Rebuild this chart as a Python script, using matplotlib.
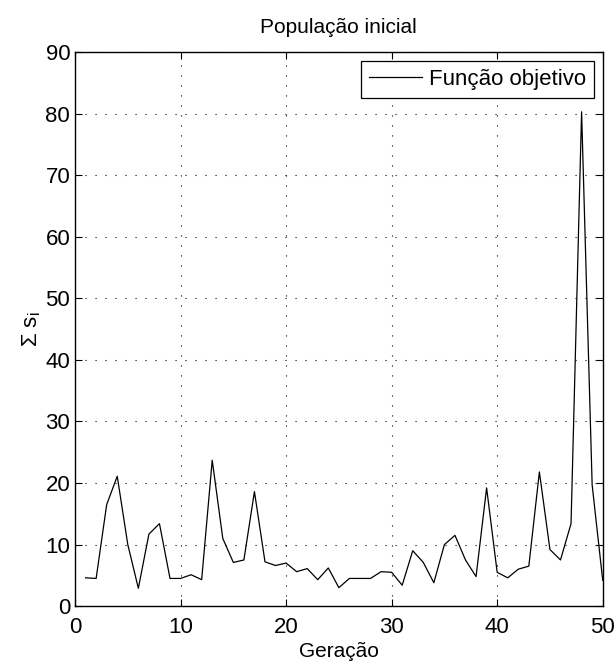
import matplotlib
matplotlib.use('Agg')
import matplotlib.pyplot as plt
import numpy as np

# Geração 1..50 e valor da função objetivo
geracao = np.arange(1, 51)
funcao_obj = [4.6, 4.5, 16.5, 21.1, 10.0, 2.9, 11.7, 13.4, 4.5, 4.5,
              5.1, 4.3, 23.7, 11.0, 7.1, 7.5, 18.6, 7.2, 6.6, 7.0,
              5.6, 6.1, 4.3, 6.2, 3.0, 4.5, 4.5, 4.5, 5.6, 5.5,
              3.4, 9.0, 7.1, 3.8, 10.0, 11.5, 7.5, 4.8, 19.2, 5.5,
              4.6, 6.0, 6.5, 21.8, 9.2, 7.5, 13.4, 80.3, 19.7, 4.2]

xticks = [0, 10, 20, 30, 40, 50]
yticks = [0, 10, 20, 30, 40, 50, 60, 70, 80, 90]

plt.rcParams['font.family'] = ['Liberation Sans', 'DejaVu Sans']
plt.rcParams['mathtext.fontset'] = 'custom'
plt.rcParams['mathtext.rm'] = 'Liberation Sans'
plt.rcParams['mathtext.it'] = 'Liberation Sans'

fig = plt.figure(figsize=(6.15, 6.72), dpi=100)
ax = fig.add_axes([0.122, 0.098, 0.858, 0.8245])

ax.plot(geracao, funcao_obj, color='black', linewidth=0.9, label='Função objetivo')

ax.set_xlim(0, 50)
ax.set_ylim(0, 90)
ax.set_xticks(xticks)
ax.set_yticks(yticks)
ax.tick_params(direction='in', top=True, right=True, labelsize=16, length=5, width=0.8)
ax.tick_params(axis='x', pad=8)
ax.grid(True, linestyle=(0, (1, 8)), color='black', linewidth=0.8)

for s in ax.spines.values():
    s.set_linewidth(1.0)

ax.set_title('População inicial', fontsize=15, pad=14)
ax.set_xlabel('Geração', fontsize=15, labelpad=3)
ax.set_ylabel(r'$\mathregular{\Sigma\ s_i}$', fontsize=16, labelpad=2)

leg = ax.legend(loc='upper right', fontsize=16, frameon=True, fancybox=False,
                edgecolor='black', framealpha=1, handlelength=2.4, borderaxespad=0.4,
                borderpad=0.35, handletextpad=0.3)
leg.get_frame().set_linewidth(0.9)

fig.savefig('out.png', dpi=100)
